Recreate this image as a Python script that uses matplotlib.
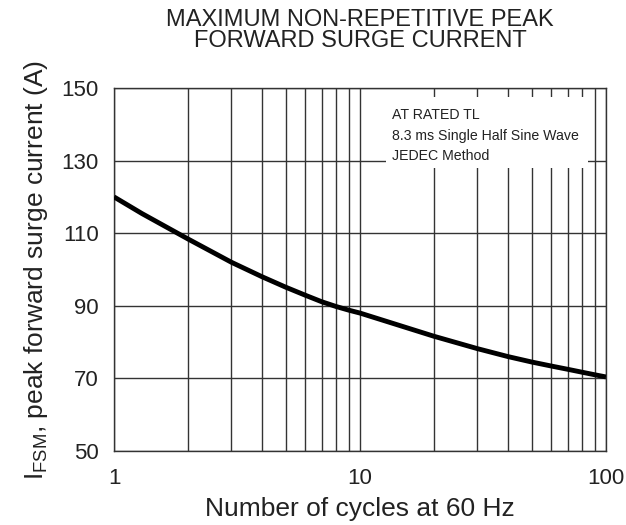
import matplotlib
matplotlib.use("Agg")
import matplotlib.pyplot as plt
from matplotlib.patches import Rectangle
from matplotlib.ticker import FixedLocator, NullFormatter

plt.rcParams['font.family'] = ['Liberation Sans', 'DejaVu Sans']
plt.rcParams['mathtext.fontset'] = 'custom'
plt.rcParams['mathtext.rm'] = 'Liberation Sans'

# данные кривой
cycles = [1, 1.3, 2, 3, 4, 5, 6, 7, 8, 9, 10, 20, 30, 40, 50, 60, 70, 80, 90, 100]
surge_current = [120.0, 115.4, 108.4, 102.0, 98.0, 95.1, 92.9, 91.1, 89.8, 88.8, 88.0,
                 81.6, 78.2, 76.0, 74.5, 73.4, 72.5, 71.7, 71.0, 70.4]

y_ticks = [50, 70, 90, 110, 130, 150]
x_ticks = [1, 10, 100]
x_tick_labels = ["1", "10", "100"]

note_lines = ["AT RATED TL", "8.3 ms Single Half Sine Wave", "JEDEC Method"]

fig = plt.figure(figsize=(6.26, 5.25), dpi=100)
ax = fig.add_axes([114 / 626, 74 / 525, 492 / 626, 363 / 525])

ax.set_xscale('log')
ax.set_xlim(1, 100)
ax.set_ylim(50, 150)

ax.xaxis.set_major_locator(FixedLocator(x_ticks))
ax.set_xticklabels(x_tick_labels)
minor = [m * d for d in (1, 10) for m in range(2, 10)]
ax.xaxis.set_minor_locator(FixedLocator(minor))
ax.xaxis.set_minor_formatter(NullFormatter())
ax.set_yticks(y_ticks)

ax.grid(True, which='both', axis='x', color='#333333', linewidth=1.0)
ax.grid(True, which='major', axis='y', color='#333333', linewidth=1.0)
ax.set_axisbelow(True)
ax.tick_params(which='both', length=0, labelsize=16, colors='#222222')
ax.tick_params(axis='y', pad=11)
ax.tick_params(axis='x', pad=12)
for s in ax.spines.values():
    s.set_color('#333333')
    s.set_linewidth(1.0)

ax.plot(cycles, surge_current, color='black', linewidth=3.5,
        solid_joinstyle='round', solid_capstyle='butt', zorder=3)

# белая табличка с пояснением
ax.add_patch(Rectangle((0.553, 0.780), 0.41, 0.195, transform=ax.transAxes,
                       facecolor='white', edgecolor='none', zorder=2.5))
ax.text(0.565, 0.945, "\n".join(note_lines), transform=ax.transAxes,
        ha='left', va='top', fontsize=10.2, color='#222222', linespacing=1.6,
        zorder=4)

ax.set_xlabel("Number of cycles at 60 Hz", fontsize=19, color='#222222', labelpad=6)
ax.set_ylabel(r"I$_{\mathrm{FSM}}$, peak forward surge current (A)", fontsize=19,
              color='#222222', labelpad=8)
fig.text(360 / 626, 1 - 9 / 525,
         "MAXIMUM NON-REPETITIVE PEAK\nFORWARD SURGE CURRENT",
         ha='center', va='top', fontsize=17, color='#222222', linespacing=0.95)

fig.savefig("out.png", dpi=100)
